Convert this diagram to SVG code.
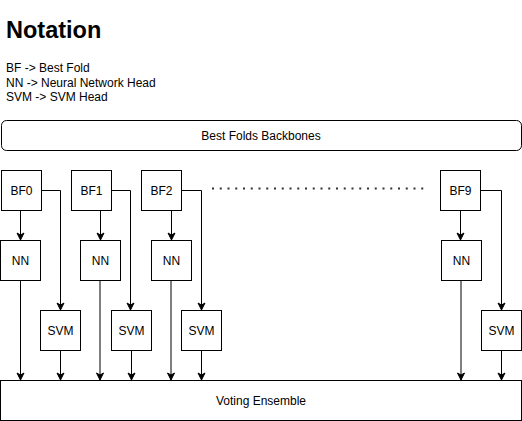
<svg xmlns="http://www.w3.org/2000/svg" width="522" height="421" viewBox="0 0 522 421">
<style>
.box{fill:#fff;stroke:#000;stroke-width:1}
.lbl{font-family:"Liberation Sans",Arial,sans-serif;font-size:12px;fill:#000;text-anchor:middle;dominant-baseline:central}
.c{fill:none;stroke:#000;stroke-width:1}
</style>
<defs>
<marker id="arr" markerUnits="userSpaceOnUse" markerWidth="10" markerHeight="10" viewBox="-8 -5 10 10" refX="0" refY="0" orient="auto">
<path d="M-7,-3.5 L0,0 L-7,3.5 L-5,0 Z" fill="#000" stroke="#000" stroke-width="1"/>
</marker>
</defs>
<rect width="522" height="421" fill="#fff"/>
<g id="notation">
<text x="6" y="38" font-family="Liberation Sans,Arial,sans-serif" font-size="23.5" font-weight="bold">Notation</text>
<text x="6" y="72" font-family="Liberation Sans,Arial,sans-serif" font-size="12">BF -&gt; Best Fold</text>
<text x="6" y="86.5" font-family="Liberation Sans,Arial,sans-serif" font-size="12">NN -&gt; Neural Network Head</text>
<text x="6" y="101" font-family="Liberation Sans,Arial,sans-serif" font-size="12">SVM -&gt; SVM Head</text>
</g>
<g id="backbones"><rect class="box" x="1.5" y="120.5" width="520" height="30" rx="5"/><text class="lbl" x="261" y="135.5">Best Folds Backbones</text></g>
<g id="bf0"><rect class="box" x="1.5" y="170.5" width="40" height="40"/><text class="lbl" x="21.5" y="190.5">BF0</text></g>
<g id="bf1"><rect class="box" x="71.5" y="170.5" width="40" height="40"/><text class="lbl" x="91.5" y="190.5">BF1</text></g>
<g id="bf2"><rect class="box" x="141.5" y="170.5" width="40" height="40"/><text class="lbl" x="161.5" y="190.5">BF2</text></g>
<g id="bf9"><rect class="box" x="440.5" y="170.5" width="40" height="40"/><text class="lbl" x="460.5" y="190.5">BF9</text></g>
<g id="nn0"><rect class="box" x="0.5" y="240.5" width="40" height="40"/><text class="lbl" x="20.5" y="260.5">NN</text></g>
<g id="nn1"><rect class="box" x="80.5" y="240.5" width="40" height="40"/><text class="lbl" x="100.5" y="260.5">NN</text></g>
<g id="nn2"><rect class="box" x="151.5" y="240.5" width="40" height="40"/><text class="lbl" x="171.5" y="260.5">NN</text></g>
<g id="nn9"><rect class="box" x="441.5" y="240.5" width="40" height="40"/><text class="lbl" x="461.5" y="260.5">NN</text></g>
<g id="svm0"><rect class="box" x="40.5" y="310.5" width="40" height="40"/><text class="lbl" x="60.5" y="330.5">SVM</text></g>
<g id="svm1"><rect class="box" x="111.5" y="310.5" width="40" height="40"/><text class="lbl" x="131.5" y="330.5">SVM</text></g>
<g id="svm2"><rect class="box" x="181.5" y="310.5" width="40" height="40"/><text class="lbl" x="201.5" y="330.5">SVM</text></g>
<g id="svm9"><rect class="box" x="481.5" y="310.5" width="40" height="40"/><text class="lbl" x="501.5" y="330.5">SVM</text></g>
<g id="voting"><rect class="box" x="0.5" y="380.5" width="521" height="40"/><text class="lbl" x="261" y="400.5">Voting Ensemble</text></g>
<g id="dots"><line x1="212" y1="188.5" x2="424" y2="188.5" stroke="#333" stroke-width="2" stroke-dasharray="2 5.75"/></g>
<g id="connectors">
<path class="c" d="M20.5,210.5 V240" marker-end="url(#arr)"/>
<path class="c" d="M100.5,210.5 V240" marker-end="url(#arr)"/>
<path class="c" d="M171.5,210.5 V240" marker-end="url(#arr)"/>
<path class="c" d="M460.5,210.5 V240" marker-end="url(#arr)"/>
<path class="c" d="M41.5,190.5 H60.5 V310" marker-end="url(#arr)"/>
<path class="c" d="M111.5,190.5 H130.5 V310" marker-end="url(#arr)"/>
<path class="c" d="M181.5,190.5 H201.5 V310" marker-end="url(#arr)"/>
<path class="c" d="M480.5,190.5 H501.5 V310" marker-end="url(#arr)"/>
<path class="c" d="M20.5,280.5 V380" marker-end="url(#arr)"/>
<path class="c" d="M100,280.5 V380" marker-end="url(#arr)"/>
<path class="c" d="M171,280.5 V380" marker-end="url(#arr)"/>
<path class="c" d="M461,280.5 V380" marker-end="url(#arr)"/>
<path class="c" d="M60.5,350.5 V380" marker-end="url(#arr)"/>
<path class="c" d="M131.5,350.5 V380" marker-end="url(#arr)"/>
<path class="c" d="M201.5,350.5 V380" marker-end="url(#arr)"/>
<path class="c" d="M501.5,350.5 V380" marker-end="url(#arr)"/>
</g>
</svg>
